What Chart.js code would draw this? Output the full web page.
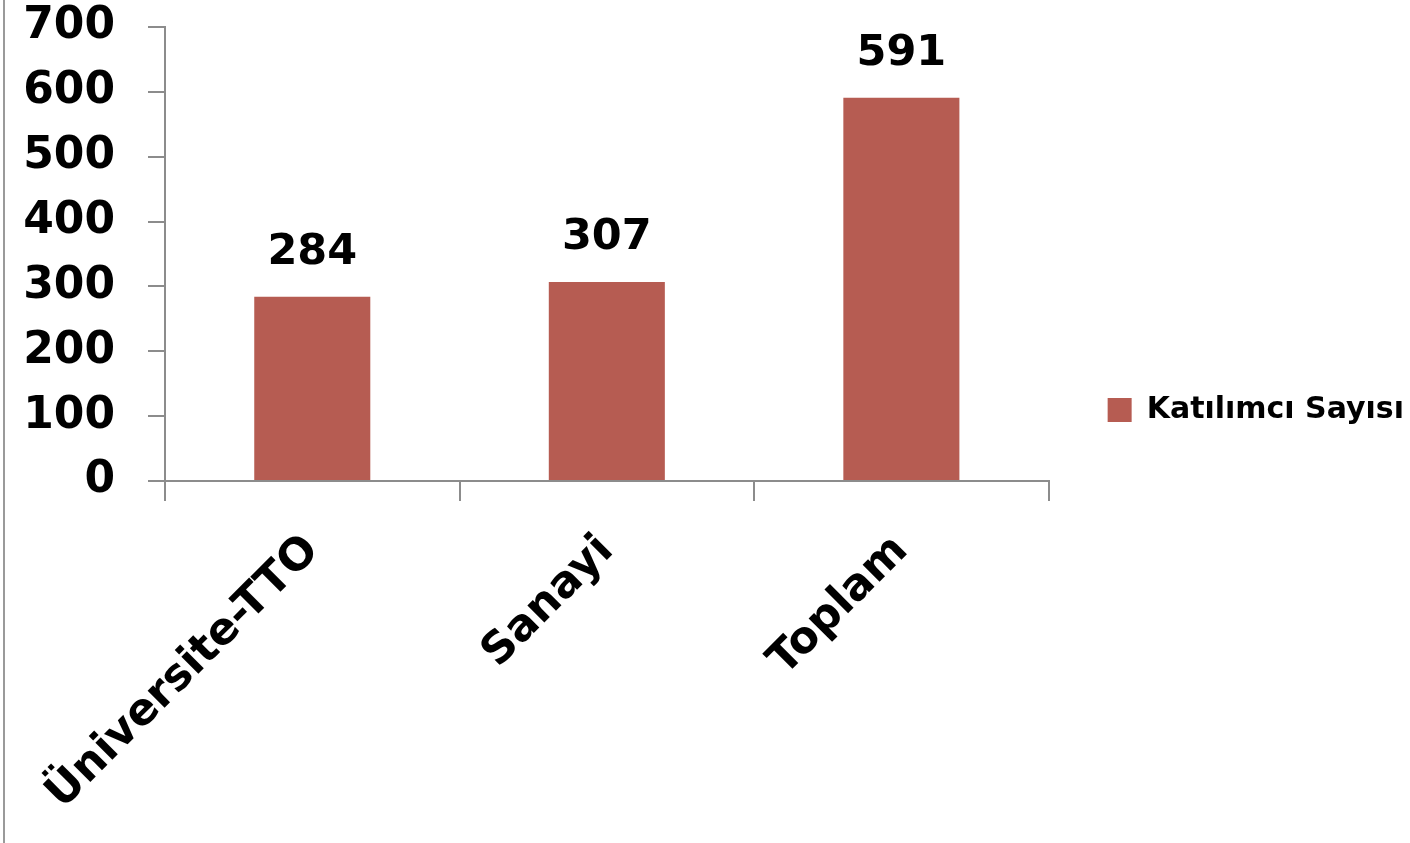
<!DOCTYPE html>
<html>
<head>
<meta charset="utf-8">
<script src="https://cdn.jsdelivr.net/npm/chart.js@4.4.1/dist/chart.umd.min.js"></script>
<style>
  html, body { margin: 0; padding: 0; background: #fff; }
  #wrap { position: relative; width: 1410px; height: 843px; }
  #edge { position: absolute; left: 3px; top: 0; width: 2px; height: 843px; background: #9a9a9a; }
</style>
</head>
<body>
<div id="wrap">
  <div id="edge"></div>
  <canvas id="chart"></canvas>
</div>
<script>
const categories = ['Üniversite-TTO', 'Sanayi', 'Toplam'];
const participants = [284, 307, 591];
const seriesName = 'Katılımcı Sayısı';
const yTicks = [0, 100, 200, 300, 400, 500, 600, 700];

const BAR_COLOR = '#B65C52';
const AXIS_COLOR = '#8c8c8c';
const FONT = "'DejaVu Sans', Verdana, sans-serif";

// value labels above each bar
const valueLabels = {
  id: 'valueLabels',
  afterDatasetsDraw(chart) {
    const ctx = chart.ctx;
    const meta = chart.getDatasetMeta(0);
    ctx.save();
    ctx.font = `bold 43px ${FONT}`;
    ctx.fillStyle = '#000';
    ctx.textAlign = 'center';
    ctx.textBaseline = 'alphabetic';
    meta.data.forEach((bar, i) => {
      ctx.fillText(String(participants[i]), bar.x, bar.y - 33);
    });
    ctx.restore();
  }
};

new Chart(document.getElementById('chart'), {
  type: 'bar',
  data: {
    labels: categories,
    datasets: [{
      label: seriesName,
      data: participants,
      backgroundColor: BAR_COLOR,
      borderWidth: 0,
      categoryPercentage: 1,
      barPercentage: 0.394,
    }]
  },
  options: {
    responsive: true,
    maintainAspectRatio: false,
    animation: false,
    layout: { padding: { left: 25, top: 0, right: -4, bottom: 23 } },
    plugins: {
      tooltip: { enabled: false },
      legend: {
        position: 'right',
        maxWidth: 420,
        labels: {
          boxWidth: 24,
          boxHeight: 24,
          padding: 59,
          color: '#000',
          font: { family: FONT, size: 30, weight: 'bold' }
        }
      }
    },
    scales: {
      x: {
        grid: { drawOnChartArea: false, color: AXIS_COLOR, lineWidth: 2, tickLength: 20, offset: true },
        border: { color: AXIS_COLOR, width: 2 },
        ticks: {
          color: '#000',
          autoSkip: false,
          maxRotation: 45,
          minRotation: 45,
          padding: 24,
          font: { family: FONT, size: 44, weight: 'bold' }
        },
        afterFit(scale) {
          scale.height = 339;
          scale.paddingLeft = 0;
          scale.paddingRight = 0;
        }
      },
      y: {
        min: yTicks[0],
        max: yTicks[yTicks.length - 1],
        afterBuildTicks(scale) { scale.ticks = yTicks.map(v => ({ value: v })); },
        grid: { drawOnChartArea: false, color: AXIS_COLOR, lineWidth: 2, tickLength: 17 },
        border: { color: AXIS_COLOR, width: 2 },
        ticks: {
          color: '#000',
          padding: 33,
          font: { family: FONT, size: 44, weight: 'bold' }
        },
        afterFit(scale) {
          scale.width = 140;
          scale.paddingTop = 27;
          scale.paddingBottom = 0;
        }
      }
    }
  },
  plugins: [valueLabels]
});
</script>
</body>
</html>
